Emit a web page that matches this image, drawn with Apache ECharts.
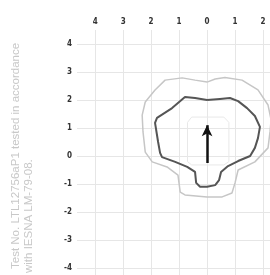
<!DOCTYPE html>
<html>
<head>
<meta charset="utf-8">
<script src="https://cdn.jsdelivr.net/npm/echarts@6/dist/echarts.min.js"></script>
<style>
  html, body { margin: 0; padding: 0; background: #fff; }
  #chart { width: 270px; height: 275px; }
</style>
</head>
<body>
<div id="chart"></div>
<script>
// tick values (grid in metres)
let xTicks = [-4, -3, -2, -1, 0, 1, 2]
let yTicks = [-4, -3, -2, -1, 0, 1, 2, 3, 4]

// outer (light) isoline
let outerLine = [
  [0, 2.64], [0.29, 2.75], [0.64, 2.8], [1.25, 2.71], [1.82, 2.36], [2.18, 1.82],
  [2.29, 1.29], [2.25, 0.86], [2.18, 0.29], [1.71, -0.21], [1.11, -0.5], [1.0, -0.96],
  [0.89, -1.32], [0.54, -1.46], [0, -1.46], [-0.79, -1.39], [-0.96, -1.29], [-1.04, -0.68],
  [-1.43, -0.39], [-1.96, -0.21], [-2.21, 0.14], [-2.29, 0.86], [-2.32, 1.46], [-2.21, 1.93],
  [-1.86, 2.36], [-1.5, 2.71], [-0.89, 2.79], [-0.43, 2.71], [0, 2.64]
]

// main (dark) isoline
let mainLine = [
  [0, 2.0], [0.46, 2.04], [0.82, 2.07], [1.11, 1.96], [1.43, 1.71], [1.71, 1.43],
  [1.89, 1.04], [1.82, 0.64], [1.71, 0.29], [1.54, 0.0], [1.11, -0.18], [0.75, -0.36],
  [0.5, -0.57], [0.43, -0.86], [0.29, -1.04], [0, -1.1], [-0.25, -1.1], [-0.39, -0.96],
  [-0.43, -0.57], [-0.71, -0.39], [-1.14, -0.21], [-1.61, -0.04], [-1.68, 0.11],
  [-1.75, 0.5], [-1.86, 1.18], [-1.79, 1.36], [-1.25, 1.71], [-0.79, 2.11], [-0.43, 2.07],
  [0, 2.0]
]

// inner (faint) isoline
let innerLine = [
  [-0.7, 1.2], [-0.55, 1.39], [0.6, 1.39], [0.78, 1.2], [0.78, -0.2], [0.6, -0.32],
  [-0.55, -0.32], [-0.7, -0.2], [-0.7, 1.2]
]

// direction arrow
let arrowFrom = [0, -0.25]
let arrowTo = [0, 1.1]

let noteLines = ['Test No. LTL12756aP1 tested in accordance', 'with IESNA LM-79-08.']

let labelFont = {
  fontFamily: 'Liberation Sans Narrow, DejaVu Sans Condensed, sans-serif',
  fontWeight: 'bold',
  fontSize: 8,
  color: '#333'
}

let myChart = echarts.init(document.getElementById('chart'))
myChart.setOption({
  animation: false,
  grid: {
    left: 77,
    right: 0,
    top: 30,
    bottom: 0
  },
  xAxis: {
    type: 'value',
    position: 'top',
    min: -4.65,
    max: 2.25,
    axisLine: { show: false },
    axisTick: { show: false, customValues: xTicks },
    splitLine: {
      show: true,
      lineStyle: { color: '#e6e6e6', width: 1 }
    },
    axisLabel: Object.assign({
      customValues: xTicks,
      margin: 4,
      formatter: function (v) { return String(Math.abs(v)) }
    }, labelFont)
  },
  yAxis: {
    type: 'value',
    min: -4.25,
    max: 4.5,
    axisLine: { show: false },
    axisTick: { show: false, customValues: yTicks },
    splitLine: {
      show: true,
      lineStyle: { color: '#e6e6e6', width: 1 }
    },
    axisLabel: Object.assign({
      customValues: yTicks,
      margin: 5
    }, labelFont)
  },
  graphic: [
    {
      type: 'text',
      x: 16,
      y: 269,
      rotation: Math.PI / 2,
      style: {
        text: noteLines[0],
        fill: '#c8c8c8',
        font: '11.5px "Liberation Sans", sans-serif',
        textAlign: 'left',
        textVerticalAlign: 'middle'
      }
    },
    {
      type: 'text',
      x: 29,
      y: 273,
      rotation: Math.PI / 2,
      style: {
        text: noteLines[1],
        fill: '#c8c8c8',
        font: '11.5px "Liberation Sans", sans-serif',
        textAlign: 'left',
        textVerticalAlign: 'middle'
      }
    }
  ],
  series: [
    {
      type: 'line',
      data: innerLine,
      symbol: 'none',
      lineStyle: { color: '#e8e8e8', width: 1 },
      z: 2
    },
    {
      type: 'line',
      data: outerLine,
      symbol: 'none',
      lineStyle: { color: '#c6c6c6', width: 1.5 },
      z: 3
    },
    {
      type: 'line',
      data: mainLine,
      symbol: 'none',
      lineStyle: { color: '#555', width: 2 },
      z: 4
    },
    {
      type: 'line',
      data: [],
      z: 5,
      markLine: {
        silent: true,
        symbol: ['none', 'arrow'],
        symbolSize: [8, 11],
        label: { show: false },
        lineStyle: { color: '#111', width: 2.5, type: 'solid' },
        data: [[{ coord: arrowFrom }, { coord: arrowTo }]]
      }
    }
  ]
})
</script>
</body>
</html>
